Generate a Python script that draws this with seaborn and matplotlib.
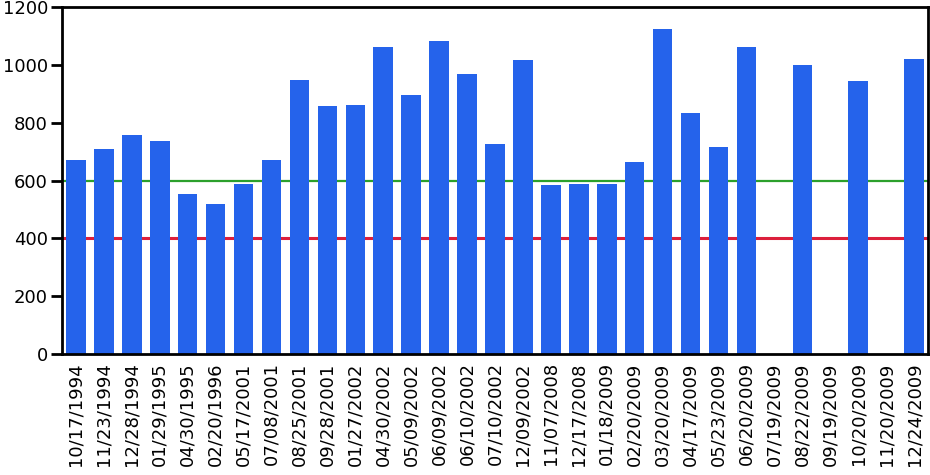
import numpy as np
import pandas as pd
import matplotlib
matplotlib.use('Agg')
import matplotlib.pyplot as plt
import seaborn as sns

# values
dates = ['10/17/1994', '11/23/1994', '12/28/1994', '01/29/1995', '04/30/1995',
         '02/20/1996', '05/17/2001', '07/08/2001', '08/25/2001', '09/28/2001',
         '01/27/2002', '04/30/2002', '05/09/2002', '06/09/2002', '06/10/2002',
         '07/10/2002', '12/09/2002', '11/07/2008', '12/17/2008', '01/18/2009',
         '02/20/2009', '03/20/2009', '04/17/2009', '05/23/2009', '06/20/2009',
         '07/19/2009', '08/22/2009', '09/19/2009', '10/20/2009', '11/20/2009',
         '12/24/2009']
values = [672, 710, 757, 736, 553, 519, 587, 672, 946, 857,
          860, 1062, 896, 1083, 967, 726, 1017, 583, 587, 587,
          663, 1124, 833, 715, 1062, np.nan, 999, np.nan, 944, np.nan,
          1020]
upper_level = 600
lower_level = 400
y_ticks = [0, 200, 400, 600, 800, 1000, 1200]

df = pd.DataFrame({'date': dates, 'value': values})

sns.set_style('white')
plt.rcParams['font.family'] = ['DejaVu Sans']
plt.rcParams['text.color'] = 'black'
plt.rcParams['xtick.color'] = 'black'
plt.rcParams['ytick.color'] = 'black'

fig = plt.figure(figsize=(9.3, 4.75), dpi=100)
ax = fig.add_axes([62 / 930, 1 - 354 / 475, 866 / 930, 347 / 475])

ax.axhline(upper_level, color='#2ca02c', lw=1.6, zorder=1)
ax.axhline(lower_level, color='#dc1f3c', lw=2.2, zorder=1)

sns.barplot(data=df, x='date', y='value', order=dates, color='#2563eb',
            saturation=1, width=0.7, errorbar=None, linewidth=0,
            ax=ax, zorder=2)

ax.set_xlim(-0.5, len(dates) - 0.5)
ax.set_ylim(0, 1200)
ax.set_yticks(y_ticks)
ax.set_yticklabels([str(t) for t in y_ticks], fontsize=13)
ax.tick_params(axis='y', length=8, width=2, color='black', pad=2, left=True)
ax.tick_params(axis='x', length=0, pad=6)
ax.set_xticks(range(len(dates)))
ax.set_xticklabels(dates, rotation=90, fontsize=13)
ax.set_xlabel('')
ax.set_ylabel('')
for s in ax.spines.values():
    s.set_color('black')
    s.set_linewidth(2)

fig.savefig('out.png', dpi=100)
